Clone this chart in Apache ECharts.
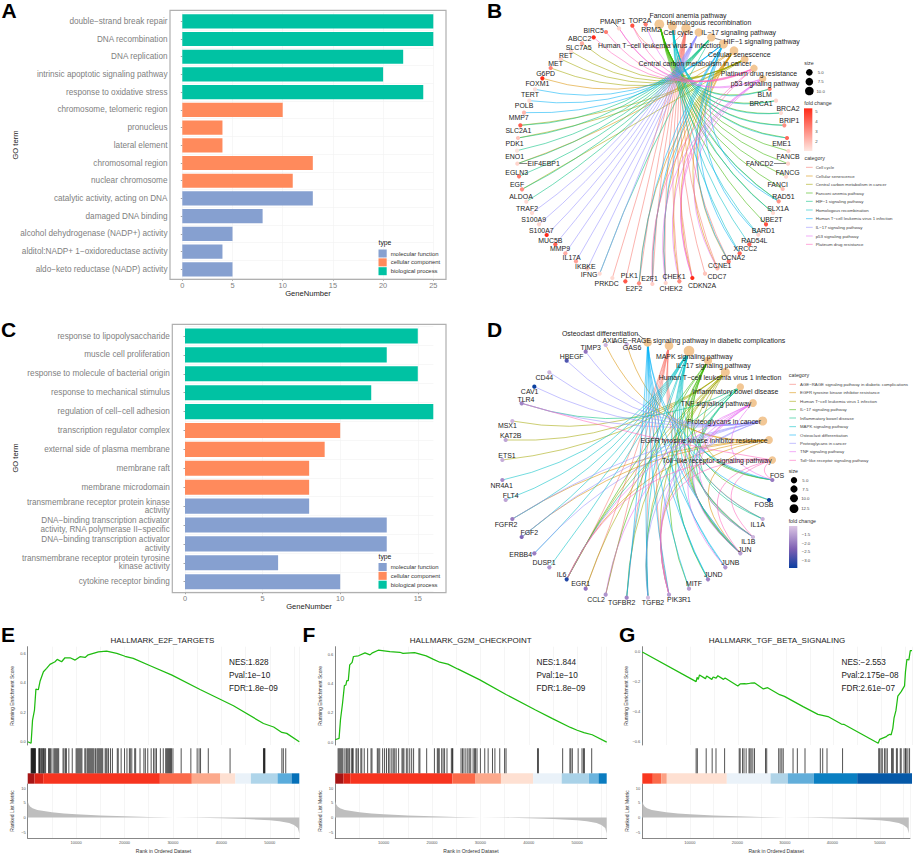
<!DOCTYPE html>
<html><head><meta charset="utf-8">
<style>html,body{margin:0;padding:0;background:#fff}#c{width:913px;height:854px}</style>
<script src="https://cdn.jsdelivr.net/npm/echarts@6/dist/echarts.min.js"></script>
</head><body><div id="c"></div>
<script>
// ---------- Panel A data ----------
const aTerms = ["double\u2212strand break repair","DNA recombination","DNA replication","intrinsic apoptotic signaling pathway","response to oxidative stress","chromosome, telomeric region","pronucleus","lateral element","chromosomal region","nuclear chromosome","catalytic activity, acting on DNA","damaged DNA binding","alcohol dehydrogenase (NADP+) activity","alditol:NADP+ 1\u2212oxidoreductase activity","aldo\u2212keto reductase (NADP) activity"];
const aCounts = [25,25,22,20,24,10,4,4,13,11,13,8,5,4,5];
const aTypes = ["bp","bp","bp","bp","bp","cc","cc","cc","cc","cc","mf","mf","mf","mf","mf"];
// ---------- Panel C data ----------
const cTerms = ["response to lipopolysaccharide","muscle cell proliferation","response to molecule of bacterial origin","response to mechanical stimulus","regulation of cell\u2212cell adhesion","transcription regulator complex","external side of plasma membrane","membrane raft","membrane microdomain","transmembrane receptor protein kinase\nactivity","DNA\u2212binding transcription activator\nactivity, RNA polymerase II\u2212specific","DNA\u2212binding transcription activator\nactivity","transmembrane receptor protein tyrosine\nkinase activity","cytokine receptor binding"];
const cCounts = [15,13,15,12,16,10,9,8,8,8,13,13,6,10];
const cTypes = ["bp","bp","bp","bp","bp","cc","cc","cc","cc","mf","mf","mf","mf","mf"];
const typeNames = ["molecular function","cellular component","biological process"];
// ---------- Panel B data ----------
const bGenes = ["PMAIP1","TOP2A","RRM2","BIRC5","ABCC2","SLC7A5","RET","MET","G6PD","FOXM1","TERT","POLB","MMP7","SLC2A1","PDK1","ENO1","EIF4EBP1","EGLN3","EGF","ALDOA","TRAF2","S100A9","S100A7","MUC5B","MMP9","IL17A","IKBKE","IFNG","PRKDC","PLK1","E2F2","E2F1","CHEK2","CHEK1","CDKN2A","CDC7","CCNE1","CCNA2","XRCC2","RAD54L","BARD1","UBE2T","SLX1A","RAD51","FANCI","FANCG","FANCD2","FANCB","EME1","BRIP1","BRCA2","BRCA1","BLM"];
const bFold = [1.6,4.2,3.4,3.3,5,2.4,1.5,1.7,3.2,5,1.4,1.5,2.2,4,1.9,1.3,1.6,3.4,3,1.5,1.5,1.6,5,3.9,2.4,2.6,1.8,1.5,1.5,4.1,3,1.7,1.6,3,5.2,1.9,2.2,3.6,3.8,3.8,1.6,4.2,1.5,2.9,2.1,1.5,1.6,1.6,3.7,3,1.5,1.6,3.3];
const bPathways = ["Cell cycle","Cellular senescence","Central carbon metabolism in cancer","Fanconi anemia pathway","HIF\u22121 signaling pathway","Homologous recombination","Human T\u2212cell leukemia virus 1 infection","IL\u221217 signaling pathway","p53 signaling pathway","Platinum drug resistance"];
const bSets = [
 ["PLK1","E2F2","E2F1","CHEK2","CHEK1","CDKN2A","CDC7","CCNE1","CCNA2","PRKDC","TOP2A"],
 ["FOXM1","E2F2","E2F1","CHEK2","CHEK1","CDKN2A","CCNE1","CCNA2","EIF4EBP1"],
 ["SLC7A5","RET","MET","G6PD","SLC2A1","PDK1","EGF"],
 ["BLM","BRCA1","BRCA2","BRIP1","EME1","FANCB","FANCD2","FANCG","FANCI","RAD51","SLX1A","UBE2T"],
 ["SLC2A1","PDK1","ENO1","EIF4EBP1","EGLN3","EGF","ALDOA","IFNG"],
 ["BLM","BRCA1","BRCA2","BRIP1","EME1","RAD51","BARD1","RAD54L","XRCC2","SLX1A"],
 ["TERT","POLB","MMP7","E2F2","E2F1","CHEK2","CCNA2","XRCC2","BARD1","RAD51"],
 ["TRAF2","S100A9","S100A7","MUC5B","MMP9","IL17A","IKBKE","IFNG"],
 ["PMAIP1","RRM2","CHEK2","CHEK1","CDKN2A","CCNE1"],
 ["BIRC5","ABCC2","TOP2A","PMAIP1","E2F1","CDKN2A"]
];
// ---------- Panel D data ----------
const dGenes = ["GAS6","AXL","TIMP3","HBEGF","CD44","CAV1","TLR4","MSX1","KAT2B","ETS1","NR4A1","FLT4","FGFR2","FGF2","ERBB4","DUSP1","IL6","EGR1","CCL2","TGFBR2","TGFB2","PIK3R1","MITF","JUND","JUNB","JUN","IL1B","IL1A","FOSB","FOS"];
const dFold = [-1.2,-1.2,-2,-2.6,-1.2,-3.2,-1.8,-1.2,-1.4,-1.3,-1.7,-1.4,-1.9,-2.2,-1.9,-1.6,-3,-2,-1.6,-1.8,-1.1,-1.5,-1.5,-1.8,-1.6,-1.5,-1.2,-1.3,-3.2,-1.9];
const dPathways = ["AGE\u2212RAGE signaling pathway in diabetic complications","EGFR tyrosine kinase inhibitor resistance","Human T\u2212cell leukemia virus 1 infection","IL\u221217 signaling pathway","Inflammatory bowel disease","MAPK signaling pathway","Osteoclast differentiation","Proteoglycans in cancer","TNF signaling pathway","Toll\u2212like receptor signaling pathway"];
const dSets = [
 ["IL6","IL1A","IL1B","TGFB2","TGFBR2","JUN","EGR1","CCL2","PIK3R1"],
 ["AXL","GAS6","FGF2","FGFR2","IL6","JUN","PIK3R1"],
 ["MSX1","KAT2B","ETS1","EGR1","TGFB2","TGFBR2","JUN","FOS","IL6","PIK3R1"],
 ["IL6","CCL2","FOS","FOSB","JUN","JUND","IL1B","MITF"],
 ["TLR4","IL6","IL1A","IL1B","JUN","TGFB2"],
 ["FOS","FLT4","NR4A1","DUSP1","FGF2","FGFR2","ERBB4","JUN","JUND","JUNB","TGFB2","TGFBR2","IL1A","IL1B"],
 ["FOS","FOSB","JUN","JUND","JUNB","TGFB2","TGFBR2","PIK3R1","MITF"],
 ["TIMP3","HBEGF","CD44","CAV1","FGF2","FGFR2","ERBB4","TLR4","PIK3R1","TGFB2"],
 ["IL6","CCL2","IL1B","FOS","JUN","JUNB","PIK3R1"],
 ["TLR4","FOS","JUN","IL1B","IL6","PIK3R1"]
];
// ---------- Panels E, F, G data ----------
const eRank = [0,700,1000,1400,1700,2200,2550,3250,3900,4600,5650,6100,7000,7700,8750,9800,10800,11850,12500,14600,16300,18400,20100,21800,25300,29800,35600,42500,48700,50800,52500,53500,56100];
const eES = [0,-0.01,0.147,0.215,0.357,0.353,0.41,0.475,0.498,0.525,0.543,0.559,0.543,0.57,0.57,0.554,0.577,0.572,0.59,0.61,0.615,0.6,0.58,0.566,0.516,0.452,0.355,0.244,0.124,0.10,0.063,0.057,0];
const fRank = [0,800,1100,1500,1900,2200,2400,2700,3000,3500,3770,4800,6160,7190,7700,8900,11300,13360,14000,16400,18800,20200,21600,23300,25300,29800,35300,41400,44900,48600,50000,51400,53100,56100];
const fES = [0.016,0.025,0.156,0.26,0.386,0.39,0.42,0.42,0.528,0.545,0.585,0.59,0.61,0.596,0.61,0.628,0.618,0.614,0.607,0.612,0.589,0.567,0.546,0.533,0.5,0.427,0.325,0.219,0.16,0.1,0.081,0.065,0.05,0];
const gRank = [0,11250,11450,11700,11950,13200,13450,14530,14800,15430,15780,16970,17300,19960,20440,21350,21700,22600,23500,25300,26200,28700,29700,33600,36700,38800,41600,42100,49300,49600,51000,51300,51750,52000,52350,52600,53000,53400,54100,54800,55000,55300,55700,56000,56360];
const gES = [0,-0.199,-0.17,-0.184,-0.154,-0.179,-0.161,-0.184,-0.168,-0.175,-0.159,-0.184,-0.175,-0.228,-0.215,-0.213,-0.215,-0.21,-0.208,-0.248,-0.24,-0.287,-0.298,-0.367,-0.419,-0.434,-0.484,-0.486,-0.613,-0.587,-0.569,-0.56,-0.553,-0.557,-0.513,-0.445,-0.394,-0.296,-0.266,-0.228,-0.132,-0.049,-0.054,0.009,0.009];
const eRug = [700,800,900,1000,1100,1200,1300,1400,1500,1600,2300,2400,2500,2700,2900,3000,3200,3300,3500,3700,4300,4500,4700,5000,5400,5600,5800,6000,6200,6400,7300,7500,7800,8000,8500,9200,10000,10200,10400,10600,10800,11000,11200,11800,12000,12300,12500,12700,12900,13100,13300,13500,13700,14000,14300,14500,14700,14900,15100,15300,15500,16000,16200,16400,16700,17100,17500,18500,18700,19300,20000,20500,21000,21200,21500,22100,22300,23200,24000,24300,24800,25500,26000,26300,26600,27400,28000,28500,28700,28900,29100,29300,29500,29700,30000,31700,33700,35000,35400,35700,37300,41800,48700,48800,48900,49000,52500,52800,53300];
const fRug = [600,800,1000,1200,1400,1600,2000,2300,2500,2800,3000,3400,3600,3700,4300,4500,4800,5300,5500,6000,6700,7400,7600,8700,8900,9200,9800,10200,10600,11000,11300,11700,12000,12300,12600,13100,13800,14000,14200,14700,15000,15400,15800,16200,17300,17500,18900,20500,21100,21300,21500,22000,22300,22600,23100,24000,24200,24300,26000,26300,26600,27000,27400,27700,28000,28500,28800,29000,29300,30000,30900,31600,32500,33000,34000,35000,35300,41800,42000,47000,48500,48700,49000,50200,51000,51300,51500,53000];
const gRug = [11250,11500,13350,14600,15400,17200,20250,20450,20950,21250,21700,22300,22500,22750,23100,23450,25750,26000,28500,28800,29150,29450,31500,32400,34000,37200,37700,38600,41850,49400,49600,49900,50150,50600,50900,51200,52100,52250,52450,53100,53300,53900,54100,54700,55000,55150,55500,55850];
const eBandEnd = [1400,3200,27300,33900,39800,42900,46100,51600,54500,56100];
const fBandEnd = [1700,3100,24200,29000,34250,40900,46800,52400,54400,56100];
const gBandEnd = [2200,3950,5120,17660,26800,30400,35860,44900,56360];
const metricRank = [0,200,500,1000,2000,3000,5000,7500,10000,15000,20000,25000,28000,30000,35000,40000,45000,50000,52000,54000,55000,55800,56100];
const metricValue = [5.6,4.5,3.8,3.2,2.6,2.3,1.8,1.4,1.1,0.7,0.45,0.2,0.05,0,-0.1,-0.25,-0.5,-0.9,-1.3,-1.9,-2.6,-3.6,-5.5];

// ---------- Layout and style (separate from data) ----------
const FONT = "'Liberation Sans', Arial, sans-serif";
const typeColor = {mf:"#86A0D0",cc:"#FF8A5C",bp:"#00C2A3"};
const hueColors = ["#F8766D","#D89000","#A3A500","#39B600","#00BF7D","#00BFC4","#00B0F6","#9590FF","#E76BF3","#FF62BC"];
const bGeneXY = [[447,85],[487,77],[527,73],[408,96],[371,112],[336,130],[303,154],[272,177],[242,204],[217,235],[195,268],[178,302],[162,338],[151,376],[144,414],[141,452],[142,491],[147,529],[156,568],[169,605],[186,639],[207,673],[230,705],[256,733],[286,760],[318,784],[352,806],[389,821],[427,834],[466,844],[507,850],[547,852],[587,849],[628,844],[667,834],[705,821],[742,805],[776,785],[809,760],[838,733],[865,704],[888,673],[909,639],[926,604],[938,567],[948,530],[954,491],[955,453],[951,414],[943,376],[933,339],[918,302],[899,267]];
const bGeneLabelXY = [[428,64],[510,60],[543,88],[371,91],[329,116],[326,141],[288,166],[257,191],[227,220],[202,250],[180,283],[162,317],[146,353],[145,391],[134,429],[134,468],[221,491],[140,516],[141,554],[153,590],[171,626],[191,659],[214,690],[241,720],[270,746],[305,772],[346,798],[357,824],[410,850],[478,825],[492,864],[539,836],[603,864],[612,829],[696,855],[741,828],[749,797],[790,772],[826,746],[853,720],[880,690],[904,659],[924,626],[940,590],[923,553],[953,516],[869,491],[954,468],[935,429],[958,361],[954,324],[873,309],[884,283]];
const bHubXY = [[648,85],[792,152],[824,178],[568,73],[724,112],[607,78],[760,132],[686,97],[878,236],[852,205]];
const bHubLabelXY = [[625,97],[808,164],[675,191],[654,47],[875,124],[717,67],[568,137],[806,97],[885,251],[867,219]];
const bLeaders = [[[447,85],[432,68]],[[142,491],[172,491]],[[954,491],[912,491]],[[724,112],[760,122]]];
const dGeneXY = [[470,133],[407,135],[347,155],[290,182],[238,217],[193,260],[155,310],[127,363],[107,420],[97,480],[97,540],[107,600],[127,657],[155,711],[193,760],[238,802],[290,838],[347,866],[407,884],[470,893],[534,893],[597,884],[657,866],[714,838],[766,802],[811,760],[849,711],[878,657],[897,600],[907,540]];
const dGeneLabelXY = [[486,141],[417,121],[362,141],[305,168],[223,233],[179,273],[168,298],[112,377],[122,406],[111,466],[95,555],[122,586],[108,672],[178,697],[152,763],[222,788],[275,823],[332,851],[378,898],[455,908],[549,908],[627,898],[672,851],[730,823],[781,788],[824,748],[835,723],[863,672],[882,614],[921,527]];
const dHubXY = [[597,137],[897,420],[766,217],[714,182],[811,261],[657,153],[533,127],[878,363],[849,309],[907,480]];
const dHubLabelXY = [[687,122],[702,421],[750,232],[730,197],[796,275],[673,170],[390,101],[762,363],[738,310],[741,481]];
const dLeaders = [[[533,127],[502,102]]];

const grids=[],xAxes=[],yAxes=[],series=[],gfx=[];
function addGrid(g,x,y){grids.push(Object.assign({containLabel:false},g));const i=grids.length-1;xAxes.push(Object.assign({gridIndex:i},x));yAxes.push(Object.assign({gridIndex:i},y));return i;}
function txt(text,x,y,size,opt){opt=opt||{};const el={type:'text',x:x,y:y,silent:true,z:50,style:{text:text,font:(opt.bold?'bold ':'')+size+'px '+FONT,fill:opt.fill||'#333',align:opt.align||'left',verticalAlign:'middle'}};if(opt.rot)el.rotation=opt.rot;gfx.push(el);}
function frame(l,t,r,b){gfx.push({type:'rect',silent:true,z:40,shape:{x:l,y:t,width:r-l,height:b-t},style:{fill:'none',stroke:'#B0B0B0',lineWidth:1.2}});}

// ---------- Bars ----------
function barPanel(terms,counts,types,geo){
 const i=addGrid({left:geo.x0,top:geo.top,width:geo.x1-geo.x0,height:geo.bottom-geo.top},
  {type:'value',min:0,max:geo.max,offset:geo.frameB-geo.bottom,axisLine:{show:false},
   axisTick:{show:true,length:1.5,lineStyle:{color:'#666',width:.6},customValues:geo.ticks},
   axisLabel:{margin:2.5,fontFamily:FONT,fontSize:7.4,color:'#808080',customValues:geo.ticks},
   splitLine:{show:true,lineStyle:{color:'#F1F1F1',width:.6}}},
  {type:'category',inverse:true,data:terms,offset:geo.x0-geo.frameL,axisLine:{show:false},
   axisTick:{show:true,length:1.5,alignWithLabel:true,lineStyle:{color:'#666',width:.6}},
   axisLabel:{margin:2.5,interval:0,fontFamily:FONT,fontSize:geo.font,lineHeight:8.2,color:'#808080',align:'right'},
   splitLine:{show:true,lineStyle:{color:'#F1F1F1',width:.6}}});
 series.push({type:'bar',xAxisIndex:i,yAxisIndex:i,barCategoryGap:'20%',silent:true,
  data:counts.map((v,k)=>({value:v,itemStyle:{color:typeColor[types[k]]}}))});
 frame(geo.frameL,geo.frameT,geo.frameR,geo.frameB);
 txt('GO term',15,geo.titleY,7.6,{rot:Math.PI/2,align:'center',fill:'#222'});
 txt('GeneNumber',geo.titleX,geo.frameB+geo.xTitleGap,7.6,{align:'center',fill:'#222'});
 txt('type',378.5,geo.legY,6.8,{fill:'#222'});
 typeNames.forEach((n,k)=>{const y=geo.legY+7+k*8.85;const key=['mf','cc','bp'][k];
  gfx.push({type:'rect',silent:true,z:41,shape:{x:378.5,y:y,width:8.2,height:8},style:{fill:typeColor[key]}});
  txt(n,390.7,y+4,5.9,{fill:'#333'});});
}
barPanel(aTerms,aCounts,aTypes,{x0:182.3,x1:433.3,max:25,ticks:[0,5,10,15,20,25],top:12.45,bottom:278.15,frameL:170,frameR:446,frameT:10.3,frameB:279.3,font:8.2,titleY:145,titleX:308,xTitleGap:14,legY:242.5});
barPanel(cTerms,cCounts,cTypes,{x0:185,x1:433.3,max:16,ticks:[0,5,10,15],top:326.55,bottom:591.15,frameL:172.3,frameR:446,frameT:324.3,frameB:592.7,font:8.2,titleY:458,titleX:309,xTitleGap:14,legY:556});

// ---------- Networks ----------
function network(o){
 const i=addGrid({left:o.left,top:o.top,width:o.w,height:o.h},
  {type:'value',min:0,max:o.w*3,show:false},{type:'value',min:0,max:o.h*3,inverse:true,show:false});
 const nodes=[],links=[];
 const label=(dx,dy,size,show)=>({show:show!==false,position:'inside',offset:[dx,dy],fontFamily:FONT,fontSize:size,color:'#1c1c1c',textBorderWidth:0});
 o.genes.forEach((g,k)=>{const p=o.geneXY[k],l=o.geneLabelXY[k];
  nodes.push({name:g,value:p,symbolSize:4.2,itemStyle:{color:o.foldColor(o.fold[k]),opacity:1},label:Object.assign(label((l[0]-p[0])/3,(l[1]-p[1])/3,6.95),{formatter:g})});});
 o.pathways.forEach((pw,k)=>{const p=o.hubXY[k],l=o.hubLabelXY[k],n=o.sets[k].length;
  nodes.push({name:pw,value:p,symbolSize:5+.4*n,itemStyle:{color:'#F2C795'},label:Object.assign(label((l[0]-p[0])/3,(l[1]-p[1])/3,6.95),{formatter:pw})});
  o.sets[k].forEach(g=>{const gi=o.genes.indexOf(g),a=o.geneXY[gi],b=p;
   const mx=(a[0]+b[0])/2,my=(a[1]+b[1])/2,vx=b[1]-a[1],vy=a[0]-b[0];
   let c=((o.center[0]-mx)*vx+(o.center[1]-my)*vy)/(vx*vx+vy*vy);
   c=Math.max(-0.8,Math.min(0.8,c));
   links.push({source:gi,target:o.genes.length+k,lineStyle:{color:hueColors[k],width:1,opacity:.55,curveness:c}});});
 });
 o.leaders.forEach((ld,k)=>{const idx=nodes.length;
  nodes.push({name:'ld'+k+'a',value:ld[0],symbolSize:0.01,itemStyle:{opacity:0},label:{show:false}});
  nodes.push({name:'ld'+k+'b',value:ld[1],symbolSize:0.01,itemStyle:{opacity:0},label:{show:false}});
  links.push({source:idx,target:idx+1,lineStyle:{color:'#333',width:.6,opacity:1,curveness:0}});});
 series.push({type:'graph',coordinateSystem:'cartesian2d',xAxisIndex:i,yAxisIndex:i,layout:'none',silent:true,animation:false,
  edgeSymbol:['none','none'],data:nodes,links:links,emphasis:{disabled:true}});
}
const redFold=v=>echarts.color.lerp(Math.min(1,Math.max(0,(v-1.3)/3.7)),['#FFE3DC','#FF2A18']);
const blueFold=v=>echarts.color.lerp(Math.min(1,Math.max(0,(-v-1)/2.2)),['#DCC6E4','#8A6BBB','#0B3FA0']);
network({left:470,top:0,w:443,h:300,genes:bGenes,fold:bFold,geneXY:bGeneXY,geneLabelXY:bGeneLabelXY,pathways:bPathways,hubXY:bHubXY,hubLabelXY:bHubLabelXY,sets:bSets,center:[585,320],foldColor:redFold,leaders:bLeaders});
network({left:470,top:300,w:443,h:320,genes:dGenes,fold:dFold,geneXY:dGeneXY,geneLabelXY:dGeneLabelXY,pathways:dPathways,hubXY:dHubXY,hubLabelXY:dHubLabelXY,sets:dSets,center:[520,420],foldColor:blueFold,leaders:dLeaders});

// Network legends: z = zoom coordinates relative to the panel's origin
function catLegend(ox,oy,names,titleX,titleY,lineX,textX,ys){
 txt('category',ox+titleX/3,oy+titleY/3,5.3,{align:'center',fill:'#333'});
 names.forEach((n,k)=>{const y=oy+ys[k]/3;
  gfx.push({type:'line',silent:true,z:41,shape:{x1:ox+lineX/3,y1:y,x2:ox+(lineX+20)/3,y2:y},style:{stroke:hueColors[k],lineWidth:.8,opacity:.7}});
  txt(n,ox+textX/3,y,4.35,{fill:'#444'});});
}
function sizeLegend(ox,oy,titleX,titleY,x,textX,items){
 txt('size',ox+titleX/3,oy+titleY/3,5.3,{align:'center'});
 items.forEach(it=>{gfx.push({type:'circle',silent:true,z:41,shape:{cx:ox+x/3,cy:oy+it[1]/3,r:it[2]},style:{fill:'#000'}});
  txt(it[0],ox+textX/3,oy+it[1]/3,4.3,{align:'center',fill:'#444'});});
}
function colorBar(ox,oy,titleX,titleY,x0,x1,y0,y1,stops,textX,ticks){
 txt('fold change',ox+titleX/3,oy+titleY/3,5.3,{align:'center'});
 gfx.push({type:'rect',silent:true,z:41,shape:{x:ox+x0/3,y:oy+y0/3,width:(x1-x0)/3,height:(y1-y0)/3},
  style:{fill:new echarts.graphic.LinearGradient(0,0,0,1,stops)}});
 ticks.forEach(t=>txt(t[0],ox+textX/3,oy+t[1]/3,4.3,{align:'center',fill:'#444'}));
}
catLegend(470,0,bPathways,1034,473,1008,1037,[502,528,553,579,604,630,656,682,708,733]);
sizeLegend(470,0,1017,188,1018,1052,[['5.0',217,3.3],['7.5',245,3.8],['10.0',273,4.3]]);
colorBar(470,0,1044,309,1002,1027,325,453,[{offset:0,color:'#FF2A18'},{offset:1,color:'#FFE7E1'}],1039,[['5',335],['4',365],['3',395],['2',425]]);
catLegend(470,300,dPathways,987,226,958,990,[253,278,304,329,354,380,405,430,455,481]);
sizeLegend(470,300,970,513,972,1006,[['5.0',541,3.2],['7.5',567,3.6],['10.0',595,4],['12.5',626,4.4]]);
colorBar(470,300,997,662,957,982,678,804,[{offset:0,color:'#DCC6E4'},{offset:.55,color:'#7D5FB3'},{offset:1,color:'#0B3FA0'}],1008,[['\u22121.5',703],['\u22122.0',729],['\u22122.5',755],['\u22123.0',782]]);

// ---------- GSEA ----------
const bandE=['#A61515','#DB2417','#F7341F','#FB6A4A','#FCA98C','#FEE0D2','#EAF2F9','#AFD5EA','#5AACDC','#0570B8'];
const bandF=['#A61515','#DB2417','#F7341F','#FB6A4A','#FCA98C','#FEE0D2','#EAF2F9','#A9D2E8','#6BB4DE','#0A7CC0'];
const bandG=['#F9371F','#FB6A4A','#FCA184','#FEE0D2','#EAF2F9','#B0D4E8','#62AEDA','#0A7FC2','#0559A8'];
function gsea(o){
 const W=o.right-o.left;
 const xBase={type:'value',min:0,max:o.rmax,interval:5000,axisLine:{show:false},axisTick:{show:false},axisLabel:{show:false},splitLine:{show:true,lineStyle:{color:'#F0F0F0',width:.7}}};
 const yName={nameLocation:'middle',nameRotate:90,nameGap:13,nameTextStyle:{fontFamily:FONT,fontSize:5,color:'#333'}};
 const yLab={margin:2,fontFamily:FONT,fontSize:4,color:'#555'};
 const a=addGrid({left:o.left,top:646.7,width:W,height:98.3},xBase,
  Object.assign({type:'value',min:o.ymin,max:o.ymax,name:'Running Enrichment Score',splitLine:{show:false},axisLine:{show:true,onZero:false,lineStyle:{color:'#555',width:.7}},
   axisTick:{show:false,customValues:o.yticks},axisLabel:Object.assign({customValues:o.yticks,formatter:v=>v.toFixed(1).replace('-','\u2212')},yLab)},yName));
 series.push({type:'line',xAxisIndex:a,yAxisIndex:a,showSymbol:false,silent:true,animation:false,lineStyle:{color:'#1FBC10',width:1.25},data:o.rank.map((r,k)=>[r,o.es[k]])});
 const hid={type:'value',show:false,min:0,max:o.rmax};
 const b=addGrid({left:o.left,top:748.3,width:W,height:25},hid,{type:'value',show:false,min:0,max:1});
 series.push({type:'bar',xAxisIndex:b,yAxisIndex:b,barWidth:.95,silent:true,animation:false,itemStyle:{color:'rgba(0,0,0,.68)'},data:o.rug.map(r=>[r,1])});
 const c=addGrid({left:o.left,top:773.3,width:W,height:10.4},hid,{type:'value',show:false,min:0,max:1});
 series.push({type:'custom',xAxisIndex:c,yAxisIndex:c,silent:true,animation:false,
  renderItem:(p,api)=>{const s=api.coord([api.value(0),1]),e=api.coord([api.value(1),0]);
   return {type:'rect',shape:{x:s[0],y:s[1],width:e[0]-s[0],height:e[1]-s[1]},style:{fill:o.bandColors[p.dataIndex]}};},
  encode:{x:[0,1],y:2},data:o.bandEnd.map((e,k)=>[k?o.bandEnd[k-1]:0,e,1])});
 const mt=[-5,0,5,10];
 const d=addGrid({left:o.left,top:784,width:W,height:56},
  Object.assign({},xBase,{name:'Rank in Ordered Dataset',nameLocation:'middle',nameGap:10,nameTextStyle:{fontFamily:FONT,fontSize:5,color:'#333'},
   axisLine:{show:true,onZero:false,lineStyle:{color:'#555',width:.7}},
   axisLabel:{show:true,margin:2.5,fontFamily:FONT,fontSize:4,color:'#555',formatter:v=>(v>0&&v%10000===0)?String(v):''}}),
  Object.assign({type:'value',min:-7,max:11.45,name:'Ranked List Metric',splitLine:{show:false},axisLine:{show:true,onZero:false,lineStyle:{color:'#555',width:.7}},
   axisTick:{show:false,customValues:mt},axisLabel:Object.assign({customValues:mt,formatter:v=>String(v).replace('-','\u2212')},yLab)},yName));
 series.push({type:'line',xAxisIndex:d,yAxisIndex:d,showSymbol:false,silent:true,animation:false,lineStyle:{width:0},areaStyle:{color:'#BEBEBE',opacity:1},
  data:metricRank.map((r,k)=>[r,metricValue[k]])});
 txt(o.title,o.titleX,640.7,8,{align:'center',fill:'#222'});
 o.stats.forEach((s,k)=>txt(s,o.statX,662.7+k*12.7,8.2,{fill:'#222'}));
}
gsea({left:27.7,right:299.3,rmax:56100,ymin:-0.022,ymax:0.645,yticks:[0,0.2,0.4,0.6],rank:eRank,es:eES,rug:eRug,bandEnd:eBandEnd,bandColors:bandE,title:'HALLMARK_E2F_TARGETS',titleX:162.5,stats:['NES:1.828','Pval:1e\u221210','FDR:1.8e\u221209'],statX:229});
gsea({left:335.2,right:606.7,rmax:56100,ymin:-0.02,ymax:0.652,yticks:[0,0.2,0.4,0.6],rank:fRank,es:fES,rug:fRug,bandEnd:fBandEnd,bandColors:bandF,title:'HALLMARK_G2M_CHECKPOINT',titleX:470.7,stats:['NES:1.844','Pval:1e\u221210','FDR:1.8e\u221209'],statX:536.5});
gsea({left:642.3,right:912,rmax:56360,ymin:-0.625,ymax:0.0356,yticks:[-0.6,-0.4,-0.2,0],rank:gRank,es:gES,rug:gRug,bandEnd:gBandEnd,bandColors:bandG,title:'HALLMARK_TGF_BETA_SIGNALING',titleX:777,stats:['NES:\u22122.553','Pval:2.175e\u221208','FDR:2.61e\u221207'],statX:841.5});

// Panel letters
[['A',1.5,10],['B',487,10],['C',1,329],['D',487,329],['E',1,634],['F',302.5,634],['G',619,634]].forEach(p=>txt(p[0],p[1],p[2],21,{bold:true,fill:'#000'}));

const chart=echarts.init(document.getElementById('c'),null,{renderer:'svg',width:913,height:854});
chart.setOption({animation:false,backgroundColor:'#fff',grid:grids,xAxis:xAxes,yAxis:yAxes,series:series,graphic:{elements:gfx}});
</script></body></html>
